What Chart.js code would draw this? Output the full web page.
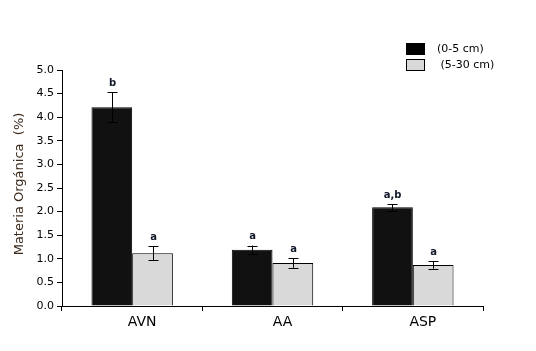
<!DOCTYPE html>
<html>
<head>
<meta charset="utf-8">
<script src="https://cdn.jsdelivr.net/npm/chart.js@4"></script>
<style>
  body { margin: 0; background: #fff; }
  #wrap { position: relative; width: 536px; height: 351px; }
</style>
</head>
<body>
<div id="wrap"><canvas id="chart" width="536" height="351"></canvas></div>
<script>
// datos del gráfico
const sitios = ['AVN', 'AA', 'ASP'];
const serieNombres = ['(0-5 cm)', ' (5-30 cm)'];
const mo0a5 = [4.21, 1.19, 2.09];
const mo5a30 = [1.12, 0.91, 0.87];
const err0a5 = [0.32, 0.09, 0.07];
const err5a30 = [0.15, 0.10, 0.08];
const letras0a5 = ['b', 'a', 'a,b'];
const letras5a30 = ['a', 'a', 'a'];
const yTicks = [0, 0.5, 1, 1.5, 2, 2.5, 3, 3.5, 4, 4.5, 5];
const tituloY = 'Materia Orgánica  (%)';

const errores = [err0a5, err5a30];
const letras = [letras0a5, letras5a30];
const fuente = 'DejaVu Sans, Verdana, sans-serif';

// barras de error, letras, título del eje y leyenda
const extras = {
    id: 'extras',
    afterDatasetsDraw(chart) {
        const ctx = chart.ctx;
        const y = chart.scales.y;
        ctx.save();
        chart.data.datasets.forEach((ds, i) => {
            const meta = chart.getDatasetMeta(i);
            meta.data.forEach((bar, j) => {
                const v = ds.data[j];
                const e = errores[i][j];
                const yTop = y.getPixelForValue(v + e);
                const yBot = y.getPixelForValue(v - e);
                const x = Math.round(bar.x) + 0.5;
                ctx.strokeStyle = '#000';
                ctx.lineWidth = 1;
                ctx.beginPath();
                ctx.moveTo(x, yTop); ctx.lineTo(x, yBot);
                ctx.moveTo(x - 5, Math.round(yTop) + 0.5); ctx.lineTo(x + 5, Math.round(yTop) + 0.5);
                ctx.moveTo(x - 5, Math.round(yBot) + 0.5); ctx.lineTo(x + 5, Math.round(yBot) + 0.5);
                ctx.stroke();
                ctx.fillStyle = '#101828';
                ctx.font = 'bold 10px ' + fuente;
                ctx.textAlign = 'center';
                ctx.textBaseline = 'bottom';
                ctx.fillText(letras[i][j], x, yTop - 4);
            });
        });
        // título del eje y
        const area = chart.chartArea;
        ctx.save();
        ctx.translate(20, (area.top + area.bottom) / 2 - 4);
        ctx.rotate(-Math.PI / 2);
        ctx.fillStyle = '#3b2a1c';
        ctx.font = '13px ' + fuente;
        ctx.textAlign = 'center';
        ctx.textBaseline = 'middle';
        ctx.fillText(tituloY, 0, 0);
        ctx.restore();
        // leyenda
        const colores = ['#000000', '#d9d9d9'];
        ctx.font = '11px ' + fuente;
        ctx.textAlign = 'left';
        ctx.textBaseline = 'middle';
        colores.forEach((c, i) => {
            const ly = 43 + i * 16;
            ctx.fillStyle = c;
            ctx.fillRect(406, ly, 19, 12);
            ctx.strokeStyle = '#000';
            ctx.strokeRect(406.5, ly + 0.5, 18, 11);
            ctx.fillStyle = '#000';
            ctx.fillText(serieNombres[i], 437, ly + 6);
        });
        ctx.restore();
    }
};

const ctx = document.getElementById('chart').getContext('2d');
new Chart(ctx, {
    type: 'bar',
    data: {
        labels: sitios,
        datasets: [{
            label: serieNombres[0],
            data: mo0a5,
            backgroundColor: '#111111',
            borderColor: '#000',
            borderWidth: 1
        }, {
            label: serieNombres[1],
            data: mo5a30,
            backgroundColor: '#d9d9d9',
            borderColor: '#000',
            borderWidth: 1
        }]
    },
    options: {
        responsive: false,
        animation: false,
        devicePixelRatio: 1,
        datasets: {
            bar: { categoryPercentage: 0.58, barPercentage: 1.0 }
        },
        layout: { padding: { left: 0, right: 53, top: 70, bottom: 0 } },
        plugins: {
            legend: { display: false },
            tooltip: { enabled: false }
        },
        scales: {
            x: {
                afterFit(scale) { scale.height = 45; },
                grid: {
                    offset: true,
                    drawOnChartArea: false,
                    tickLength: 5,
                    color: '#000'
                },
                border: { color: '#000', width: 1 },
                ticks: {
                    color: '#000',
                    padding: 3,
                    labelOffset: 10,
                    font: { family: fuente, size: 14 }
                }
            },
            y: {
                min: 0,
                max: 5,
                afterFit(scale) { scale.width = 62; },
                afterBuildTicks(scale) { scale.ticks = yTicks.map(v => ({ value: v })); },
                grid: {
                    drawOnChartArea: false,
                    tickLength: 5,
                    color: '#000'
                },
                border: { color: '#000', width: 1 },
                ticks: {
                    color: '#000',
                    padding: 3,
                    font: { family: fuente, size: 11 },
                    callback: v => v.toFixed(1)
                }
            }
        }
    },
    plugins: [extras]
});
</script>
</body>
</html>
